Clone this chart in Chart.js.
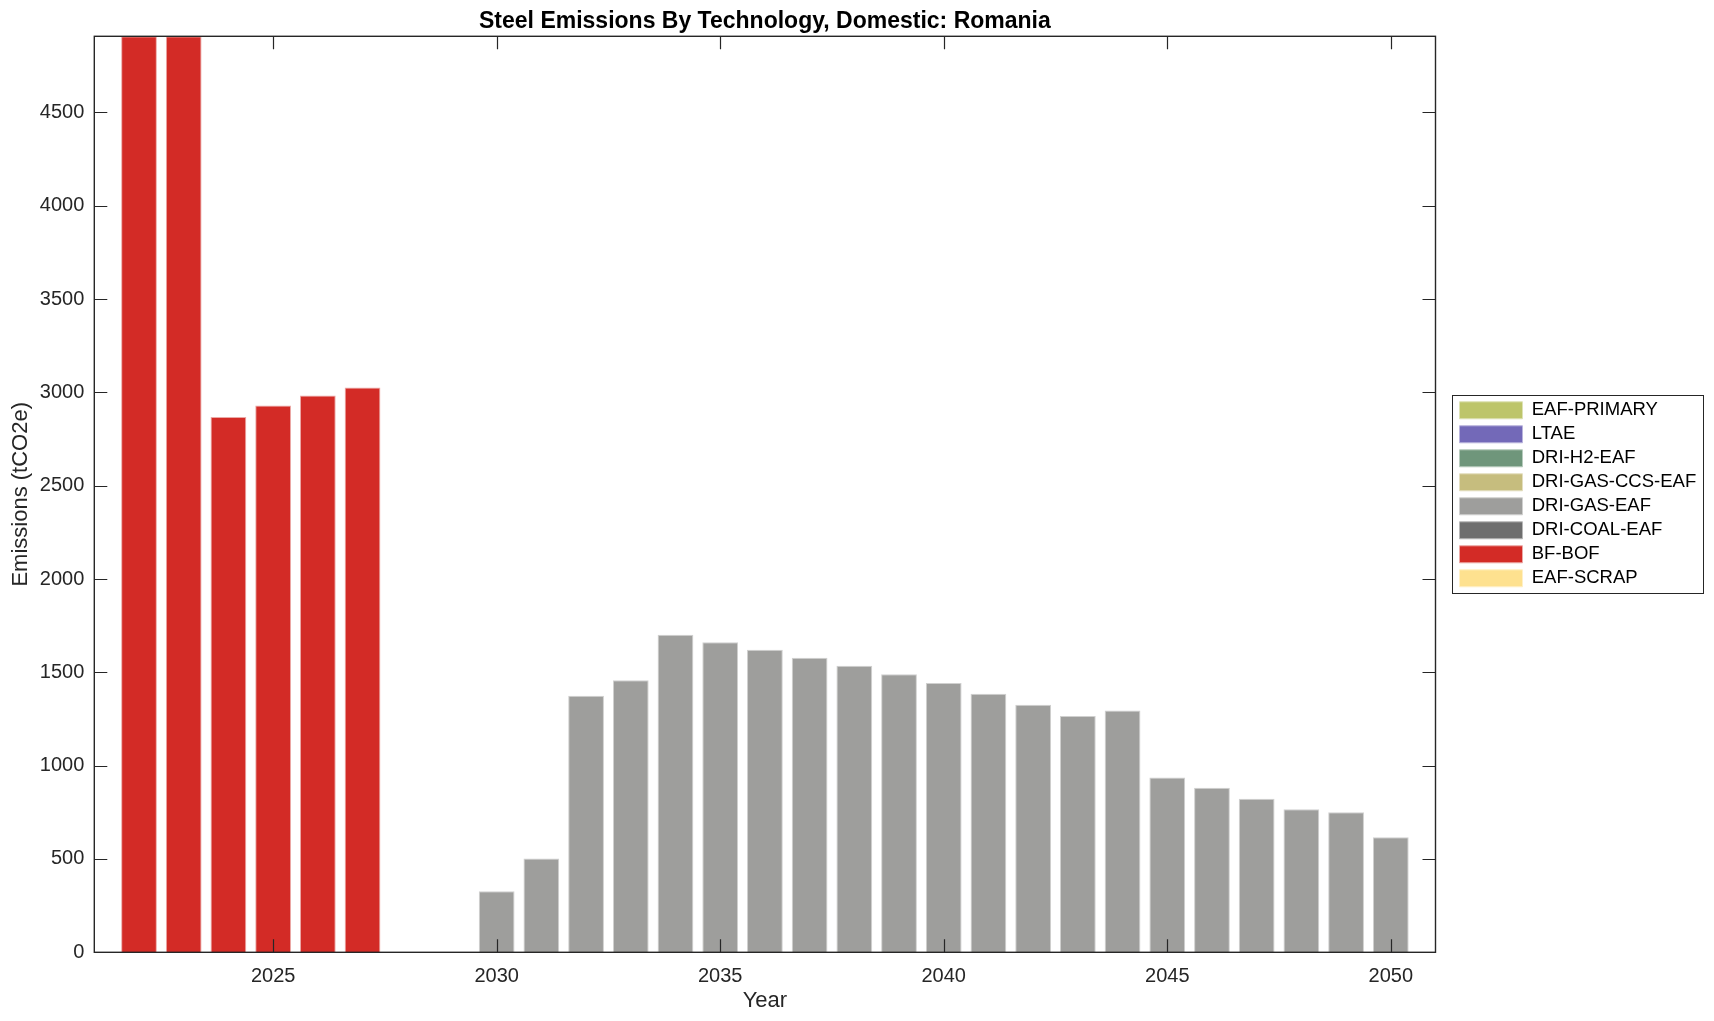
<!DOCTYPE html>
<html>
<head>
<meta charset="utf-8">
<title>Steel Emissions By Technology, Domestic: Romania</title>
<script src="https://cdn.jsdelivr.net/npm/chart.js@4.4.1/dist/chart.umd.min.js"></script>
<style>
  html, body { margin: 0; padding: 0; background: #fff; }
  canvas { display: block; }
</style>
</head>
<body>
<canvas id="emissionsChart" width="1714" height="1021"></canvas>
<script>
// data
const years = [2022, 2023, 2024, 2025, 2026, 2027, 2028, 2029, 2030, 2031, 2032, 2033, 2034, 2035,
  2036, 2037, 2038, 2039, 2040, 2041, 2042, 2043, 2044, 2045, 2046, 2047, 2048, 2049, 2050];
const bfBof = [4908, 4908, 2868, 2930, 2983, 3026, null, null, null, null, null, null, null, null,
  null, null, null, null, null, null, null, null, null, null, null, null, null, null, null];
const driGasEaf = [null, null, null, null, null, null, null, null, 327, 502, 1375, 1457, 1702, 1661,
  1621, 1578, 1535, 1490, 1443, 1386, 1327, 1266, 1296, 937, 882, 823, 766, 750, 616];
const technologies = ["EAF-PRIMARY", "LTAE", "DRI-H2-EAF", "DRI-GAS-CCS-EAF", "DRI-GAS-EAF",
  "DRI-COAL-EAF", "BF-BOF", "EAF-SCRAP"];
const techColors = ["#BDC56A", "#7369B8", "#6F967B", "#C6BD7E", "#9E9E9C", "#6E6E6E", "#D32B26", "#FEE18F"];
const techEdges = ["#DDE2B4", "#B9B4DC", "#B7CBBD", "#E3DEBF", "#D0D0CF", "#B7B7B7", "#EBA9A6", "#FFF0C7"];
const xTicks = [2025, 2030, 2035, 2040, 2045, 2050];
const yTicks = [0, 500, 1000, 1500, 2000, 2500, 3000, 3500, 4000, 4500];
const xMin = 2021, xMax = 2051, yMax = 4908;

const seriesByTech = { "BF-BOF": bfBof, "DRI-GAS-EAF": driGasEaf };

Chart.defaults.font.family = "'Liberation Sans', Arial, Helvetica, sans-serif";
const axisColor = "#262626";

const datasets = technologies.map(function (name, i) {
  const values = seriesByTech[name] || [];
  return {
    label: name,
    data: values.map(function (v, k) { return { x: years[k], y: v }; }),
    backgroundColor: techColors[i],
    borderColor: techEdges[i],
    borderWidth: 1,
    barPercentage: 0.8,
    categoryPercentage: 1.0,
  };
});

// box around the axes, inward tick marks, and a frame round the legend
const frameAndTicks = {
  id: "frameAndTicks",
  afterDatasetsDraw(chart) {
    const { ctx, chartArea: a } = chart;
    const xs = chart.scales.x, ys = chart.scales.y;
    const len = 13;
    ctx.save();
    ctx.strokeStyle = axisColor;
    ctx.lineWidth = 1.2;
    ctx.beginPath();
    xTicks.forEach(function (v) {
      const px = Math.round(xs.getPixelForValue(v)) + 0.5;
      ctx.moveTo(px, a.bottom); ctx.lineTo(px, a.bottom - len);
      ctx.moveTo(px, a.top); ctx.lineTo(px, a.top + len);
    });
    yTicks.forEach(function (v) {
      const py = Math.round(ys.getPixelForValue(v)) + 0.5;
      ctx.moveTo(a.left, py); ctx.lineTo(a.left + len, py);
      ctx.moveTo(a.right, py); ctx.lineTo(a.right - len, py);
    });
    ctx.stroke();
    ctx.lineWidth = 1.4;
    ctx.strokeRect(a.left, a.top, a.right - a.left, a.bottom - a.top);
    ctx.restore();
  },
  afterDraw(chart) {
    const boxes = chart.legend && chart.legend.legendHitBoxes;
    if (!boxes || !boxes.length) return;
    const left = Math.min.apply(null, boxes.map(b => b.left));
    const top = Math.min.apply(null, boxes.map(b => b.top));
    const bottom = Math.max.apply(null, boxes.map(b => b.top + b.height));
    const ctx = chart.ctx;
    ctx.save();
    ctx.strokeStyle = axisColor;
    ctx.lineWidth = 1;
    ctx.strokeRect(Math.round(left - 7.5) + 0.5, Math.round(top - 5.8) + 0.5, 251, Math.round(bottom - top + 11.5));
    ctx.restore();
  }
};

new Chart(document.getElementById("emissionsChart").getContext("2d"), {
  type: "bar",
  data: { datasets: datasets },
  plugins: [frameAndTicks],
  options: {
    responsive: false,
    animation: false,
    layout: { padding: { left: 0, right: 9, top: 0, bottom: 0 } },
    plugins: {
      title: {
        display: true,
        text: "Steel Emissions By Technology, Domestic: Romania",
        fullSize: false,
        color: "#000",
        font: { size: 23, weight: "bold" },
        padding: { top: 7.7, bottom: 1 },
      },
      legend: {
        position: "right",
        fullSize: false,
        maxWidth: 251,
        labels: {
          boxWidth: 63,
          boxHeight: 17,
          padding: 5.5,
          color: "#000",
          font: { size: 18.5 },
        },
      },
      tooltip: { enabled: false },
    },
    scales: {
      x: {
        type: "linear",
        min: xMin,
        max: xMax,
        offset: false,
        stacked: true,
        grid: { display: false, drawTicks: false },
        border: { display: false },
        ticks: {
          color: axisColor, font: { size: 20 }, padding: 12, maxRotation: 0,
          callback: function (v) { return String(v); },
        },
        title: { display: true, text: "Year", color: axisColor, font: { size: 22 }, padding: { top: 0, bottom: 7 } },
        afterBuildTicks: function (axis) { axis.ticks = xTicks.map(v => ({ value: v })); },
        afterFit: function (axis) { axis.height = 68.7; },
      },
      y: {
        type: "linear",
        min: 0,
        max: yMax,
        stacked: true,
        grid: { display: false, drawTicks: false },
        border: { display: false },
        ticks: {
          color: axisColor, font: { size: 20 }, padding: 10,
          callback: function (v) { return String(v); },
        },
        title: { display: true, text: "Emissions (tCO2e)", color: axisColor, font: { size: 22 }, padding: { top: 8, bottom: 0 } },
        afterBuildTicks: function (axis) { axis.ticks = yTicks.map(v => ({ value: v })); },
        afterFit: function (axis) { axis.width = 94.3; },
      },
      gap: {
        type: "linear",
        position: "right",
        display: true,
        grid: { display: false, drawTicks: false },
        border: { display: false },
        ticks: { display: false },
        afterFit: function (axis) { axis.width = 18.5; },
      },
    },
  },
});
</script>
</body>
</html>
